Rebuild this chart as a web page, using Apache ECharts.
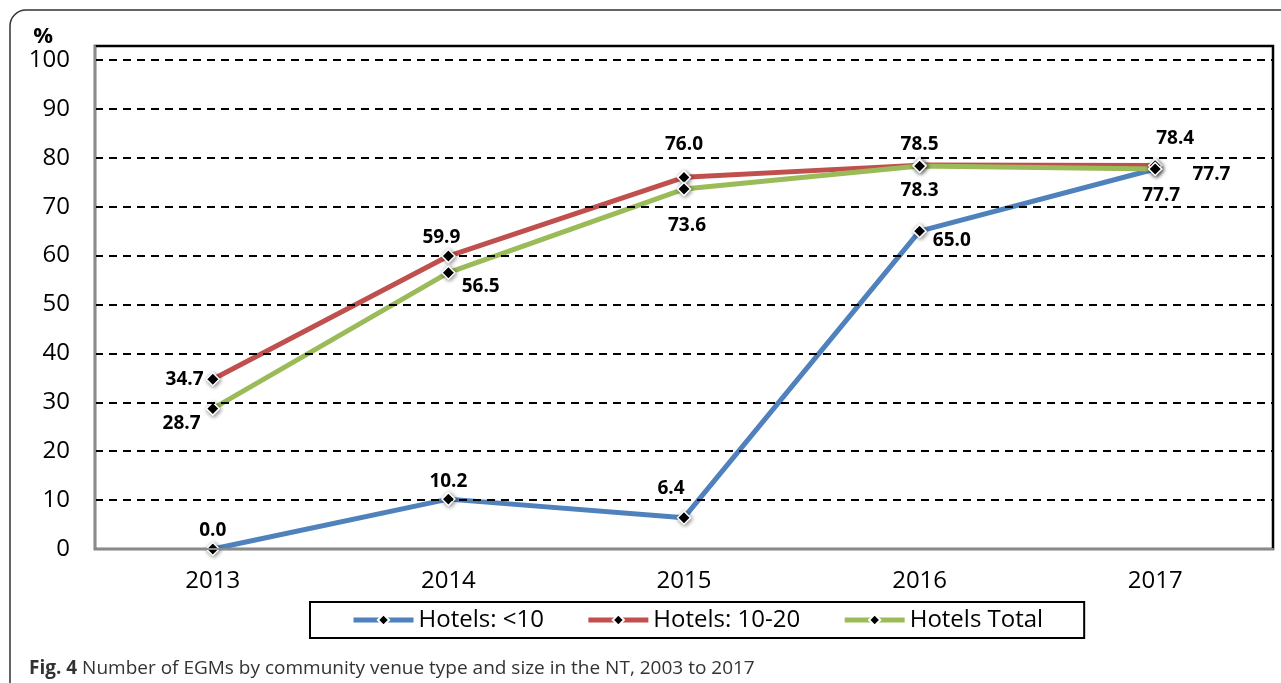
<!DOCTYPE html>
<html>
<head>
<meta charset="utf-8">
<script src="https://cdn.jsdelivr.net/npm/echarts@6/dist/echarts.min.js"></script>
<style>
  html, body { margin: 0; padding: 0; background: #fff; }
  #chart { width: 1281px; height: 683px; }
</style>
</head>
<body>
<div id="chart"></div>
<script>
// data
const years = ['2013', '2014', '2015', '2016', '2017'];
const hotelsUnder10 = [0.0, 10.2, 6.4, 65.0, 77.7];
const hotels10to20 = [34.7, 59.9, 76.0, 78.5, 78.4];
const hotelsTotal = [28.7, 56.5, 73.6, 78.3, 77.7];
const seriesNames = ['Hotels: <10', 'Hotels: 10-20', 'Hotels Total'];

// label placement per point (style only)
const labelPlace = {
  under10: [['top', [0, 6]], ['top', [0, 7]], ['top', [-13, -4]], ['right', [-2, 9]], ['bottom', [6, 2]]],
  mid: [['left', [6, 0]], ['top', [-7, 6]], ['top', [0, -8]], ['top', [0, 4]], ['top', [20, -2]]],
  total: [['left', [3, 15]], ['right', [-2, 14]], ['bottom', [3, 12]], ['bottom', [0, 0]], ['right', [22, 6]]]
};

const FONT = '"Open Sans", "Noto Sans", sans-serif';
let myChart = echarts.init(document.getElementById('chart'));

function build(name, values, color, places) {
  return {
    name: name,
    type: 'line',
    symbol: 'diamond',
    symbolSize: 13,
    lineStyle: { width: 5, color: color },
    itemStyle: {
      color: '#000',
      borderColor: '#fff',
      borderWidth: 1.5,
      shadowColor: 'rgba(0,0,0,0.45)',
      shadowBlur: 4,
      shadowOffsetX: 1,
      shadowOffsetY: 1
    },
    label: {
      show: true,
      fontFamily: FONT,
      fontWeight: 'bold',
      fontSize: 19,
      color: '#000',
      distance: 8,
      formatter: p => p.value.toFixed(1)
    },
    data: values.map((v, i) => ({
      value: v,
      label: { position: places[i][0], offset: places[i][1] }
    })),
    z: 3
  };
}

const option = {
  animation: false,
  color: ['#4F81BD', '#C0504D', '#9BBB59'],
  textStyle: { fontFamily: FONT },
  title: {
    left: 24,
    top: 654,
    text: '{b|Fig. 4} Number of EGMs by community venue type and size in the NT, 2003 to 2017',
    textStyle: {
      fontFamily: FONT,
      fontSize: 19,
      fontWeight: 'normal',
      color: '#333',
      rich: { b: { fontFamily: FONT, fontSize: 19, fontWeight: 'bold', color: '#333' } }
    }
  },
  legend: {
    data: seriesNames,
    left: 310,
    top: 602,
    padding: [5, 41, 5, 41],
    itemGap: 42,
    itemWidth: 60,
    itemHeight: 14,
    borderColor: '#000',
    borderWidth: 2,
    lineStyle: { width: 5 },
    textStyle: { fontFamily: FONT, fontSize: 24, color: '#000', lineHeight: 26 }
  },
  grid: {
    left: 95,
    right: 8,
    top: 46,
    bottom: 134,
    show: true,
    borderColor: '#000',
    borderWidth: 2.5,
    backgroundColor: '#fff'
  },
  xAxis: {
    type: 'category',
    data: years,
    boundaryGap: true,
    axisLine: { show: true, lineStyle: { color: '#8a8a8a', width: 2 } },
    axisTick: { show: false },
    axisLabel: { color: '#000', fontSize: 24, fontFamily: FONT, margin: 20 },
    z: 4
  },
  yAxis: {
    type: 'value',
    min: 0,
    max: 102.86,
    interval: 10,
    name: '%',
    nameLocation: 'end',
    nameGap: -4,
    nameTextStyle: {
      fontFamily: FONT, fontSize: 22, fontWeight: 'bold', color: '#000',
      align: 'right', verticalAlign: 'bottom', padding: [0, 42, 0, 0]
    },
    axisLine: { show: true, lineStyle: { color: '#8a8a8a', width: 2 } },
    axisTick: { show: false },
    axisLabel: {
      color: '#000', fontSize: 24, fontFamily: FONT, margin: 25,
      formatter: v => (Math.abs(v % 10) < 1e-6 ? String(v) : '')
    },
    splitLine: { show: true, lineStyle: { color: '#000', width: 2, type: [8, 6] } },
    z: 4
  },
  graphic: [{
    type: 'rect',
    shape: { x: 10, y: 10, width: 1300, height: 720, r: 16 },
    style: { fill: null, stroke: '#333', lineWidth: 1.5 },
    silent: true,
    z: -1
  }],
  series: [
    build(seriesNames[0], hotelsUnder10, '#4F81BD', labelPlace.under10),
    build(seriesNames[1], hotels10to20, '#C0504D', labelPlace.mid),
    build(seriesNames[2], hotelsTotal, '#9BBB59', labelPlace.total)
  ]
};

myChart.setOption(option);
</script>
</body>
</html>
